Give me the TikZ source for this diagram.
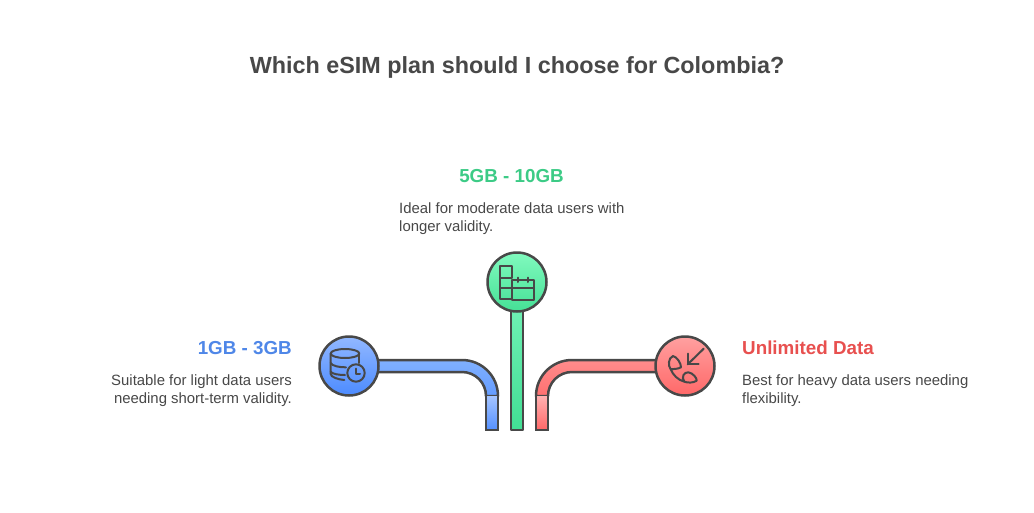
\documentclass[tikz,border=0pt]{standalone}
\usepackage{fontspec}
\setmainfont{Liberation Sans}
\usetikzlibrary{backgrounds,calc}
\definecolor{ink}{HTML}{484848}
\definecolor{blueT}{HTML}{4F87E8}
\definecolor{greenT}{HTML}{3CCB86}
\definecolor{redT}{HTML}{E8504F}
\tikzset{
  x=1pt,y=-1pt,
  outline/.style={draw=ink,line width=2.5pt,line join=round},
  hub/.style={circle,outline,minimum size=59pt,inner sep=0pt},
  bluehub/.style={hub,top color={rgb,255:red,146;green,184;blue,255},bottom color={rgb,255:red,76;green,139;blue,255}},
  greenhub/.style={hub,top color={rgb,255:red,128;green,250;blue,190},bottom color={rgb,255:red,70;green,224;blue,150}},
  redhub/.style={hub,top color={rgb,255:red,255;green,160;blue,160},bottom color={rgb,255:red,255;green,104;blue,104}},
  icon/.style={draw=ink,line width=2pt,line cap=round,line join=round,fill=none},
  title/.style={font=\fontsize{23.35}{28}\selectfont\bfseries,text=ink,inner sep=0pt},
  head/.style={font=\fontsize{18.8}{22}\selectfont\bfseries,inner sep=0pt},
  body/.style={font=\fontsize{14.9}{18}\selectfont,text=ink,inner sep=0pt},
}
\begin{document}
\begin{tikzpicture}
\useasboundingbox (0,0) rectangle (1034,512);

\node[title,anchor=center] (ttl) at (517,67) {Which eSIM plan should I choose for Colombia?};

\node[bluehub] (bl) at (349,366) {};
\node[greenhub] (gr) at (517,282) {};
\node[redhub] (rd) at (685,366) {};

\begin{scope}[on background layer]
\fill[white] (0,0) rectangle (1034,512);
% blue
\path[outline,top color={rgb,255:red,128;green,176;blue,255},bottom color={rgb,255:red,100;green,156;blue,255}]
  ($(bl.center)+(0,-6)$) -- (462,360) arc[start angle=-90,end angle=0,radius=36] -- (486,396)
  arc[start angle=0,end angle=-90,radius=24] -- ($(bl.center)+(0,6)$) -- cycle;
\path[draw=ink,line width=2.5pt,top color={rgb,255:red,164;green,196;blue,255},bottom color={rgb,255:red,84;green,144;blue,255}]
  (498,396) -- (498,430) -- (486,430) -- (486,396);
% green
\path[outline,top color={rgb,255:red,120;green,244;blue,186},bottom color={rgb,255:red,66;green,222;blue,148}]
  ($(gr.center)+(-6,0)$) rectangle (523,430);
% red
\path[outline,top color={rgb,255:red,255;green,140;blue,140},bottom color={rgb,255:red,255;green,112;blue,112}]
  ($(rd.center)+(0,-6)$) -- (572,360) arc[start angle=-90,end angle=-180,radius=36] -- (548,396)
  arc[start angle=180,end angle=270,radius=24] -- ($(rd.center)+(0,6)$) -- cycle;
\path[draw=ink,line width=2.5pt,top color={rgb,255:red,255;green,176;blue,176},bottom color={rgb,255:red,255;green,104;blue,104}]
  (536,396) -- (536,430) -- (548,430) -- (548,396);
\end{scope}

% blue icon: database + clock
\begin{scope}[shift={(bl.center)}]
\draw[icon] (-4,-12.5) ellipse[x radius=14.3,y radius=4.5];
\draw[icon] (-18.3,-12.5) -- (-18.3,8) .. controls (-18.3,11) and (-11,13.5) .. (-4.7,14);
\draw[icon] (10.3,-12.5) -- (10.3,-3);
\draw[icon] (-18.3,-3) .. controls (-17,0) and (-9,1.5) .. (-3,1.3);
\draw[icon] (-18.3,5.7) .. controls (-17,8) and (-10,9) .. (-4,9);
\draw[icon] (7,7) circle[radius=8.7];
\draw[icon] (7,2.7) -- (7,8) -- (11,8);
\end{scope}

% green icon: blocks + calendar
\begin{scope}[shift={(gr.center)}]
\draw[icon] (-17,-16) rectangle (-5,-4);
\draw[icon] (-17,-4) -- (-17,17) -- (-5,17);
\draw[icon] (-17,6) -- (-5,6);
\draw[icon] (-5,-2) rectangle (17,18);
\draw[icon] (-5,6) -- (17,6);
\draw[icon] (1,-4.5) -- (1,0);
\draw[icon] (11,-4.5) -- (11,0);
\end{scope}

% red icon: phone + arrow
\begin{scope}[shift={(rd.center)}]
\draw[icon] (18.7,-17.3) -- (2.7,-1.7);
\draw[icon] (2.7,-12.3) -- (2.7,-1.7) -- (13.7,-1.7);
\draw[icon] (-14.3,3.3) .. controls (-17,0) and (-17,-8) .. (-12,-10) .. controls (-8,-9) and (-4,-3) .. (-4,1.3) .. controls (-7,3) and (-11,3) .. (-14.3,3.3)
  .. controls (-12,9) and (-7,14) .. (-0.7,15.7)
  .. controls (-4,11) and (-1,6) .. (3.3,6.3) .. controls (8,7) and (12,12) .. (11.7,14.7) .. controls (8,17) and (3,17) .. (-0.7,15.7);
\end{scope}

% texts
\node[head,text=blueT,anchor=east] (t1) at (292,348) {1GB - 3GB};
\node[body,anchor=north east,align=right] (d1) at (292,374.5) {Suitable for light data users\\needing short-term validity.};
\node[head,text=greenT,anchor=center] (t2) at (511.5,176) {5GB - 10GB};
\node[body,anchor=north west,align=left] (d2) at (399,202.5) {Ideal for moderate data users with\\longer validity.};
\node[head,text=redT,anchor=west] (t3) at (742,348) {Unlimited Data};
\node[body,anchor=north west,align=left] (d3) at (742,374.5) {Best for heavy data users needing\\flexibility.};
\end{tikzpicture}
\end{document}
